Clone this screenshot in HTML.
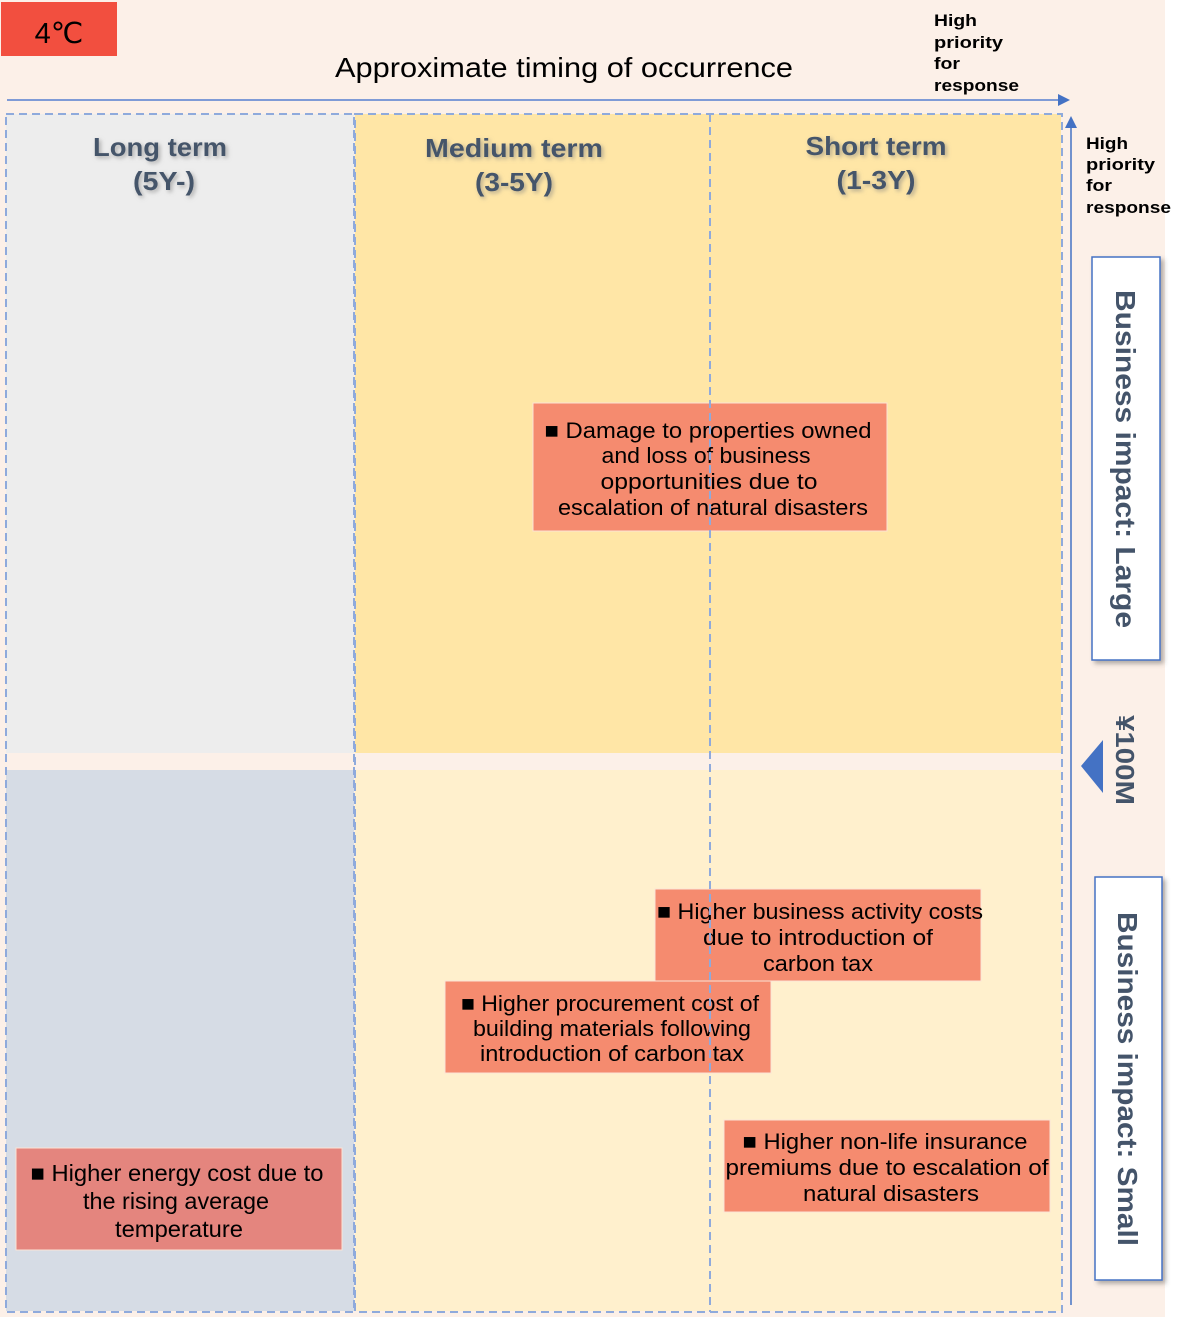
<!DOCTYPE html>
<html><head><meta charset="utf-8">
<style>
html,body{margin:0;padding:0;background:#fff;}
svg{display:block;}
text{font-family:"Liberation Sans","DejaVu Sans",sans-serif;}
</style></head>
<body>
<svg width="1200" height="1317" viewBox="0 0 1200 1317" xmlns="http://www.w3.org/2000/svg">
<defs>
<filter id="ts" x="-20%" y="-40%" width="140%" height="180%">
<feDropShadow dx="2" dy="2" stdDeviation="2" flood-color="#7f7f7f" flood-opacity="0.6"/>
</filter>
<filter id="bs" x="-20%" y="-10%" width="150%" height="120%">
<feDropShadow dx="3" dy="3" stdDeviation="2.5" flood-color="#555" flood-opacity="0.45"/>
</filter>
</defs>
<!-- background -->
<rect x="0" y="0" width="1165" height="1317" fill="#fcf0e8"/>
<!-- 4C box -->
<rect x="1" y="2" width="116" height="54" fill="#f24f3f"/>
<text x="59" y="43" font-size="29" text-anchor="middle" fill="#000">4℃</text>
<!-- title -->
<text x="564" y="77" font-size="28" text-anchor="middle" fill="#000" textLength="458" lengthAdjust="spacingAndGlyphs">Approximate timing of occurrence</text>
<!-- horizontal arrow -->
<line x1="7" y1="100" x2="1060" y2="100" stroke="#7f9bd6" stroke-width="2"/>
<polygon points="1070,100 1058,94 1058,106" fill="#4472c4"/>
<g font-size="17" font-weight="bold" fill="#000" lengthAdjust="spacingAndGlyphs">
<text x="934" y="26" textLength="43" lengthAdjust="spacingAndGlyphs">High</text>
<text x="934" y="48" textLength="69" lengthAdjust="spacingAndGlyphs">priority</text>
<text x="934" y="69" textLength="26" lengthAdjust="spacingAndGlyphs">for</text>
<text x="934" y="91" textLength="85" lengthAdjust="spacingAndGlyphs">response</text>
<text x="1086" y="149" textLength="42" lengthAdjust="spacingAndGlyphs">High</text>
<text x="1086" y="170" textLength="69" lengthAdjust="spacingAndGlyphs">priority</text>
<text x="1086" y="191" textLength="26" lengthAdjust="spacingAndGlyphs">for</text>
<text x="1086" y="213" textLength="85" lengthAdjust="spacingAndGlyphs">response</text>
</g>
<!-- vertical arrow -->
<line x1="1071" y1="126" x2="1071" y2="1305" stroke="#4472c4" stroke-width="1.5"/>
<polygon points="1071,116 1065,128 1077,128" fill="#4472c4"/>

<!-- long term column fills -->
<rect x="6" y="114" width="348" height="639" fill="#ededed"/>
<rect x="6" y="770" width="348" height="541" fill="#d6dce5"/>
<!-- medium/short fills -->
<rect x="355" y="114" width="706" height="639" fill="#ffe6a6"/>
<rect x="355" y="770" width="706" height="541" fill="#fff0cd"/>

<!-- dashed borders -->
<g fill="none" stroke="#8faadc" stroke-width="2" stroke-dasharray="8,5">
<rect x="6" y="114" width="348" height="1198"/>
<rect x="355" y="114" width="707" height="1198"/>
</g>

<!-- headers -->
<g font-size="26" font-weight="bold" fill="#44546a" text-anchor="middle" filter="url(#ts)">
<text x="160" y="156" textLength="134" lengthAdjust="spacingAndGlyphs">Long term</text>
<text x="164" y="190" textLength="62" lengthAdjust="spacingAndGlyphs">(5Y-)</text>
<text x="514" y="157" textLength="178" lengthAdjust="spacingAndGlyphs">Medium term</text>
<text x="514" y="191" textLength="78" lengthAdjust="spacingAndGlyphs">(3-5Y)</text>
<text x="876" y="155" textLength="141" lengthAdjust="spacingAndGlyphs">Short term</text>
<text x="876" y="189" textLength="79" lengthAdjust="spacingAndGlyphs">(1-3Y)</text>
</g>

<!-- risk boxes -->
<g stroke="#fbe3d6" stroke-width="1">
<rect x="533" y="403" width="354" height="128" fill="#f58b6f"/>
<rect x="655" y="889" width="326" height="92" fill="#f58b6f"/>
<rect x="445" y="981" width="326" height="92" fill="#f58b6f"/>
<rect x="724" y="1120" width="326" height="92" fill="#f58b6f"/>
<rect x="16" y="1148" width="326" height="102" fill="#e4857e"/>
</g>
<g font-size="22" fill="#000" text-anchor="middle">
<text x="708" y="438" textLength="327" lengthAdjust="spacingAndGlyphs">■ Damage to properties owned</text>
<text x="706" y="463" textLength="209" lengthAdjust="spacingAndGlyphs">and loss of business</text>
<text x="709" y="489" textLength="217" lengthAdjust="spacingAndGlyphs">opportunities due to</text>
<text x="713" y="515" textLength="310" lengthAdjust="spacingAndGlyphs">escalation of natural disasters</text>

<text x="820" y="919" textLength="326" lengthAdjust="spacingAndGlyphs">■ Higher business activity costs</text>
<text x="818" y="945" textLength="230" lengthAdjust="spacingAndGlyphs">due to introduction of</text>
<text x="818" y="971" textLength="110" lengthAdjust="spacingAndGlyphs">carbon tax</text>

<text x="610" y="1011" textLength="298" lengthAdjust="spacingAndGlyphs">■ Higher procurement cost of</text>
<text x="612" y="1036" textLength="278" lengthAdjust="spacingAndGlyphs">building materials following</text>
<text x="612" y="1061" textLength="264" lengthAdjust="spacingAndGlyphs">introduction of carbon tax</text>

<text x="885" y="1149" textLength="285" lengthAdjust="spacingAndGlyphs">■ Higher non-life insurance</text>
<text x="887" y="1175" textLength="323" lengthAdjust="spacingAndGlyphs">premiums due to escalation of</text>
<text x="891" y="1201" textLength="176" lengthAdjust="spacingAndGlyphs">natural disasters</text>
</g>
<g font-size="23" fill="#000" text-anchor="middle">
<text x="177" y="1181" textLength="293" lengthAdjust="spacingAndGlyphs">■ Higher energy cost due to</text>
<text x="176" y="1209" textLength="186" lengthAdjust="spacingAndGlyphs">the rising average</text>
<text x="179" y="1237" textLength="128" lengthAdjust="spacingAndGlyphs">temperature</text>
</g>

<!-- middle dashed line (over boxes) -->
<line x1="710" y1="114" x2="710" y2="1312" stroke="#8faadc" stroke-width="2" stroke-dasharray="8,5"/>

<!-- right side impact boxes -->
<rect x="1092" y="257" width="68" height="403" fill="#fff" stroke="#4472c4" stroke-width="1.5" filter="url(#bs)"/>
<rect x="1095" y="877" width="67" height="403" fill="#fff" stroke="#4472c4" stroke-width="1.5" filter="url(#bs)"/>
<g font-size="28" font-weight="bold" fill="#44546a" text-anchor="middle">
<text transform="translate(1116,459) rotate(90)" textLength="338" lengthAdjust="spacingAndGlyphs">Business impact: Large</text>
<text transform="translate(1118,1079) rotate(90)" textLength="334" lengthAdjust="spacingAndGlyphs">Business impact: Small</text>
</g>
<text transform="translate(1116,760) rotate(90)" font-size="26" font-weight="bold" fill="#44546a" text-anchor="middle" textLength="90" lengthAdjust="spacingAndGlyphs">¥100M</text>
<polygon points="1081,766 1103,740 1103,793" fill="#4472c4"/>
</svg>
</body></html>
